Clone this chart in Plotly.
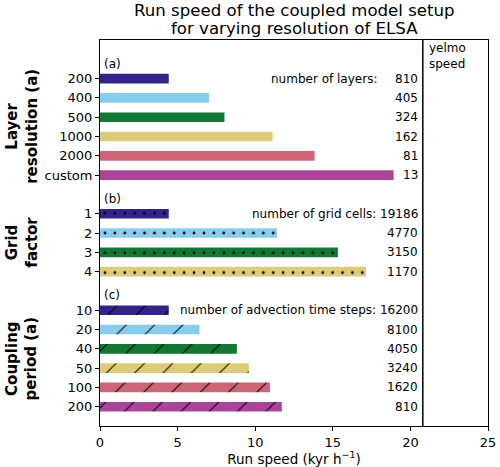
import plotly.graph_objects as go

# ---- data ----
layer_labels = ["200", "400", "500", "1000", "2000", "custom"]
layer_speed = [4.43, 7.03, 8.02, 11.12, 13.83, 18.92]
n_layers = [810, 405, 324, 162, 81, 13]

grid_labels = ["1", "2", "3", "4"]
grid_speed = [4.43, 11.4, 15.33, 17.14]
n_cells = [19186, 4770, 3150, 1170]

coupling_labels = ["10", "20", "40", "50", "100", "200"]
coupling_speed = [4.43, 6.41, 8.82, 9.59, 10.95, 11.72]
n_steps = [16200, 8100, 4050, 3240, 1620, 810]

yelmo_speed = 20.8

title_lines = ["Run speed of the coupled model setup", "for varying resolution of ELSA"]

colors = ["#332288", "#88CCEE", "#117733", "#DDCC77", "#CC6677", "#AA4499"]
FONT = "DejaVu Sans"

# slot positions (one empty slot between groups)
pos_a = list(range(0, len(layer_labels)))
pos_b = list(range(pos_a[-1] + 2, pos_a[-1] + 2 + len(grid_labels)))
pos_c = list(range(pos_b[-1] + 2, pos_b[-1] + 2 + len(coupling_labels)))

fig = go.Figure()
groups = [
    (layer_speed, pos_a, None),
    (grid_speed, pos_b, dict(shape=".", size=9.9, solidity=0.06)),
    (coupling_speed, pos_c, dict(shape="/", size=20, solidity=0.05)),
]
for speeds, pos, pat in groups:
    for i, (v, p) in enumerate(zip(speeds, pos)):
        marker = dict(color=colors[i], line=dict(width=0))
        if pat is not None:
            marker["pattern"] = dict(shape=pat["shape"], size=pat["size"],
                                     solidity=pat["solidity"], fgcolor="black",
                                     fgopacity=1, bgcolor=colors[i], fillmode="replace")
        fig.add_trace(go.Bar(x=[v], y=[p], orientation="h", width=0.5,
                             marker=marker, showlegend=False))

W, H, L, R, T, B = 500, 467, 100, 12, 40, 41

ann = []
tf = dict(family=FONT, size=12, color="black")
num_x = 20.65
ann.append(dict(x=18.0, y=pos_a[0], text="number of layers:", xanchor="right"))
for p, n in zip(pos_a, n_layers):
    ann.append(dict(x=num_x, y=p, text=str(n), xanchor="right"))
for i, (p, n) in enumerate(zip(pos_b, n_cells)):
    t = f"number of grid cells: {n}" if i == 0 else str(n)
    ann.append(dict(x=num_x, y=p, text=t, xanchor="right"))
for i, (p, n) in enumerate(zip(pos_c, n_steps)):
    t = f"number of advection time steps: {n}" if i == 0 else str(n)
    ann.append(dict(x=num_x, y=p, text=t, xanchor="right"))
for lab, grp in zip(["(a)", "(b)", "(c)"], [pos_a, pos_b, pos_c]):
    ann.append(dict(x=0.15, y=grp[0] - 0.78, text=lab, xanchor="left"))
annotations = []
for a in ann:
    a.update(xref="x", yref="y", showarrow=False, font=tf, yanchor="middle")
    annotations.append(a)
annotations.append(dict(x=yelmo_speed + 0.25, y=-2, xref="x", yref="y", text="yelmo<br>speed",
                        xanchor="left", yanchor="top", showarrow=False, align="left",
                        font=tf, yshift=1))
for t, grp in zip(["Layer<br>resolution (a)", "Grid<br>factor", "Coupling<br>period (a)"],
                  [pos_a, pos_b, pos_c]):
    annotations.append(dict(x=(22 - L) / (W - L - R), xref="paper", xanchor="center",
                            y=(grp[0] + grp[-1]) / 2, yref="y", yanchor="middle",
                            text=f"<b>{t}</b>", textangle=-90, showarrow=False,
                            font=dict(family=FONT, size=15, color="black")))
# title lines
for line, shift in zip(title_lines, [30, 12]):
    annotations.append(dict(x=0.5, xref="paper", xanchor="center", y=1, yref="paper",
                            yanchor="middle", yshift=shift, showarrow=False, text=line,
                            font=dict(family=FONT, size=16.6, color="black")))

fig.add_shape(type="line", x0=yelmo_speed, x1=yelmo_speed, y0=0, y1=1,
              xref="x", yref="paper", line=dict(color="black", width=1.5))

fig.update_layout(
    width=W, height=H,
    margin=dict(l=L, r=R, t=T, b=B, autoexpand=False),
    paper_bgcolor="white", plot_bgcolor="white",
    barmode="overlay",
    annotations=annotations,
    xaxis=dict(range=[0, 25], tickvals=[0, 5, 10, 15, 20, 25], ticks="outside",
               ticklen=4, tickcolor="black", showgrid=False, zeroline=False,
               showline=True, linecolor="black", linewidth=1, mirror=True,
               automargin=False,
               tickfont=dict(family=FONT, size=13, color="black"),
               title=dict(text="Run speed (kyr h<sup>−1</sup>)", standoff=0,
                          font=dict(family=FONT, size=13.5, color="black"))),
    yaxis=dict(range=[pos_c[-1] + 1, -2],
               tickvals=pos_a + pos_b + pos_c,
               ticktext=layer_labels + grid_labels + coupling_labels,
               ticks="outside", ticklen=4, tickcolor="black",
               showgrid=False, zeroline=False, automargin=False,
               showline=True, linecolor="black", linewidth=1, mirror=True,
               tickfont=dict(family=FONT, size=13, color="black")),
)

fig.write_html("out.html", config={"displayModeBar": False},
               post_script="document.body.style.margin='0px';")
